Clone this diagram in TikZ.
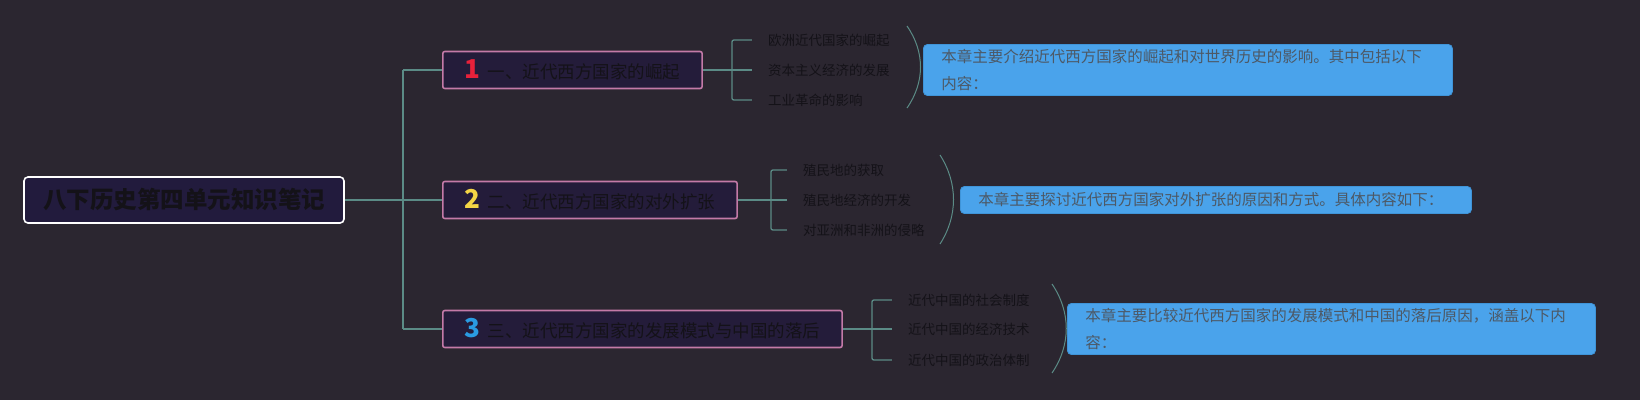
\documentclass[tikz,border=0pt]{standalone}
\usepackage{fontspec}
\setmainfont{Noto Sans CJK SC}
\usetikzlibrary{positioning,calc}
\definecolor{bgcol}{HTML}{2B2630}
\definecolor{linecol}{HTML}{5B8B86}
\definecolor{rootfill}{HTML}{221B3D}
\definecolor{branchfill}{HTML}{241C3A}
\definecolor{branchdraw}{HTML}{C47AA8}
\definecolor{notefill}{HTML}{4AA3EB}
\definecolor{notedraw}{HTML}{3F94D8}
\definecolor{notetext}{HTML}{4D5966}
\definecolor{inktext}{HTML}{141218}
\definecolor{numone}{HTML}{E8213A}
\definecolor{numtwo}{HTML}{F3D545}
\definecolor{numthree}{HTML}{2A9BE2}

\begin{document}
\begin{tikzpicture}[
    x=1pt, y=-1pt,
    rootnode/.style={rectangle, draw=white, fill=rootfill, line width=1.6pt, rounded corners=4pt, minimum width=320pt, minimum height=46pt, font=\fontsize{23.5}{26}\selectfont\bfseries, text=inktext},
    branchnode/.style={rectangle, draw=branchdraw, fill=branchfill, line width=1.6pt, rounded corners=2pt, minimum height=37pt, inner xsep=22pt, anchor=west, font=\fontsize{17.5}{20}\selectfont, text=inktext},
    leafnode/.style={anchor=west, inner xsep=0pt, font=\fontsize{13.5}{16}\selectfont, text=inktext},
    notenode/.style={rectangle, draw=notedraw, fill=notefill, line width=0.8pt, rounded corners=4pt, anchor=west, align=left, inner xsep=18pt, font=\fontsize{15.5}{26.5}\selectfont, text=notetext},
    link/.style={draw=linecol, line width=1.3pt, rounded corners=2pt},
    paren/.style={draw=linecol, line width=1pt},
    num/.style={font=\fontsize{26}{26}\selectfont\bfseries}
    ]

    %Background
    \fill[bgcol] (0,0) rectangle (1640,400);

    %Nodes
    \node[rootnode] (root) at (184,200) {八下历史第四单元知识笔记};
    \coordinate (trunk) at (403,200);
    \node[branchnode] (b1) at (442,70)  {{\fontsize{26}{26}\selectfont\bfseries\color{numone}1}\hspace{7pt}一、近代西方国家的崛起};
    \node[branchnode] (b2) at (442,200) {{\fontsize{26}{26}\selectfont\bfseries\color{numtwo}2}\hspace{7pt}二、近代西方国家的对外扩张};
    \node[branchnode] (b3) at (442,329) {{\fontsize{26}{26}\selectfont\bfseries\color{numthree}3}\hspace{7pt}三、近代西方国家的发展模式与中国的落后};

    % Brackets and leaves
    \coordinate (k1) at ([xshift=29pt]b1.east);
    \coordinate (k2) at ([xshift=33pt]b2.east);
    \coordinate (k3) at ([xshift=29pt]b3.east);

    \node[leafnode] (l11) at ([xshift=36pt,yshift=30pt]k1)  {欧洲近代国家的崛起};
    \node[leafnode] (l12) at ([xshift=36pt]k1)              {资本主义经济的发展};
    \node[leafnode] (l13) at ([xshift=36pt,yshift=-30pt]k1) {工业革命的影响};

    \node[leafnode] (l21) at ([xshift=32pt,yshift=30pt]k2)  {殖民地的获取};
    \node[leafnode] (l22) at ([xshift=32pt]k2)              {殖民地经济的开发};
    \node[leafnode] (l23) at ([xshift=32pt,yshift=-30pt]k2) {对亚洲和非洲的侵略};

    \node[leafnode] (l31) at ([xshift=36pt,yshift=29pt]k3)  {近代中国的社会制度};
    \node[leafnode] (l32) at ([xshift=36pt]k3)              {近代中国的经济技术};
    \node[leafnode] (l33) at ([xshift=36pt,yshift=-31pt]k3) {近代中国的政治体制};

    % Notes
    \node[notenode, text width=493pt, minimum height=51pt] (n1) at (923,70)  {本章主要介绍近代西方国家的崛起和对世界历史的影响。其中包括以下\\内容：};
    \node[notenode, text width=475pt, minimum height=27pt] (n2) at (960,200) {本章主要探讨近代西方国家对外扩张的原因和方式。具体内容如下：};
    \node[notenode, text width=492pt, minimum height=51pt] (n3) at (1067,329) {本章主要比较近代西方国家的发展模式和中国的落后原因，涵盖以下内\\容：};

    %Lines
    \draw[link] (root.east) -- (trunk);
    \draw[link] (trunk |- b1.west) -- (trunk |- b3.west);
    \foreach \b in {b1,b2,b3}
        \draw[link] (trunk |- \b.west) -- (\b.west);

    \foreach \g in {1,2,3} {
        \draw[link] (b\g.east) -- (k\g);
        \draw[link] ([xshift=-16pt]l\g1.west) -- (k\g |- l\g1.west) -- (k\g |- l\g3.west) -- ([xshift=-16pt]l\g3.west);
        \draw[link] (k\g |- l\g2.west) -- ([xshift=-16pt]l\g2.west);
    }

    % Parens
    \draw[paren] ([xshift=-16pt,yshift=44pt]n1.west) .. controls +(18pt,-26pt) and +(18pt,26pt) .. ([xshift=-16pt,yshift=-38pt]n1.west);
    \draw[paren] ([xshift=-20pt,yshift=45pt]n2.west) .. controls +(18pt,-28pt) and +(18pt,28pt) .. ([xshift=-20pt,yshift=-44pt]n2.west);
    \draw[paren] ([xshift=-15pt,yshift=45pt]n3.west) .. controls +(19pt,-28pt) and +(19pt,28pt) .. ([xshift=-15pt,yshift=-44pt]n3.west);
\end{tikzpicture}
\end{document}
